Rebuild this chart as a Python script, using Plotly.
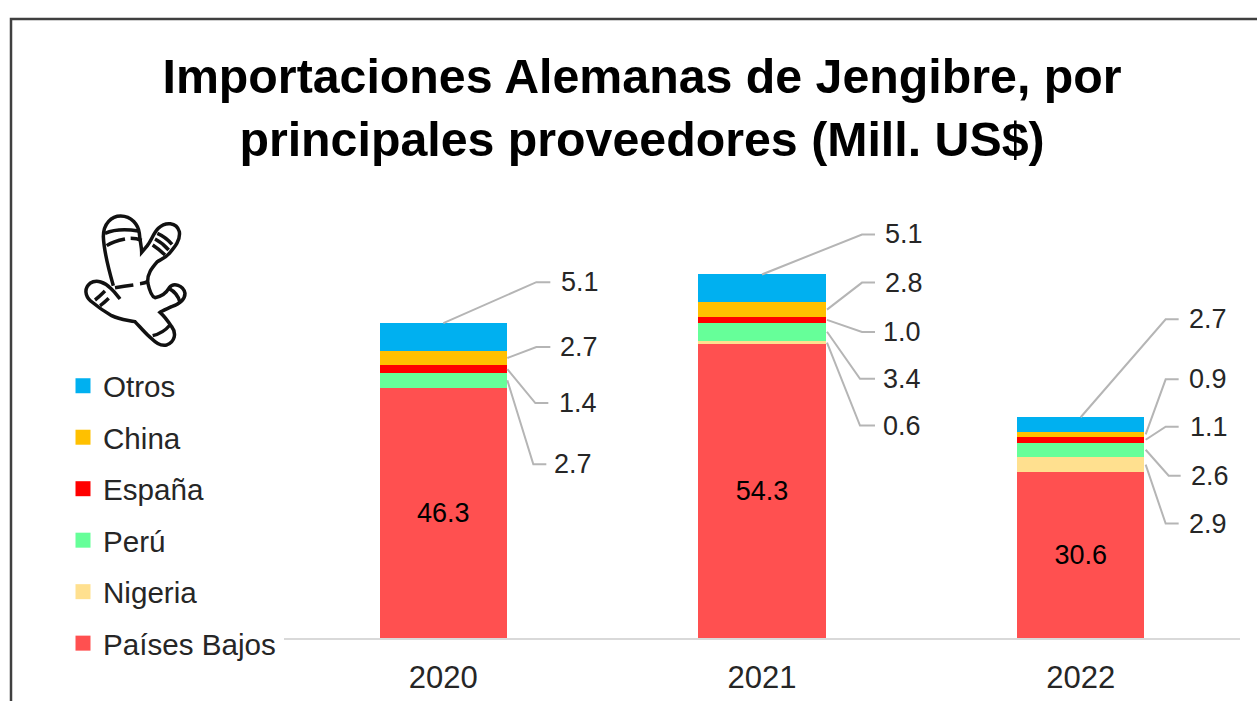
import plotly.graph_objects as go

WIDTH, HEIGHT = 1257, 701

years = ["2020", "2021", "2022"]
paises_bajos = [46.3, 54.3, 30.6]
nigeria = [None, 0.6, 2.9]
peru = [2.7, 3.4, 2.6]
espana = [1.4, 1.0, 1.1]
china = [2.7, 2.8, 0.9]
otros = [5.1, 5.1, 2.7]

series_names = ["Países Bajos", "Nigeria", "Perú", "España", "China", "Otros"]
series_values = [paises_bajos, nigeria, peru, espana, china, otros]
series_colors = ["#FF5050", "#FFE08F", "#66FF99", "#FF0000", "#FFC000", "#00B0F0"]

title_text = "<b>Importaciones Alemanas de Jengibre, por<br>principales proveedores (Mill. US$)</b>"

FONT = "Liberation Sans"
PLOT_L, PLOT_R = 284, 1240
BASE_Y, PLOT_TOP = 638, 200
PX_PER_UNIT = 5.41
Y_MAX = (BASE_Y - PLOT_TOP) / PX_PER_UNIT


def px_x(v):
    return (v - PLOT_L) / (PLOT_R - PLOT_L)


def px_y(v):
    return (BASE_Y - v) / (BASE_Y - PLOT_TOP)


# leader lines, pixel offsets from the bar centre and the segment's value:
# series index: (anchor, start dx, elbow dx, elbow dy, end dx, label dx)
leaders = {
    0: {5: ("top", 0, 93, 41, 107, 116), 4: ("mid", 64, 93, 11, 107, 115), 3: ("mid", 64, 92, -34, 105, 114),
        2: ("mid", 64, 90, -84, 103, 109)},
    1: {5: ("top", 0, 100, 40, 113, 121), 4: ("mid", 65, 100, 27, 113, 121), 3: ("mid", 65, 100, -12, 113, 119),
        2: ("mid", 65, 98, -47, 113, 119), 1: ("mid", 65, 98, -83, 113, 119)},
    2: {5: ("top", 0, 85, 98, 98, 106), 4: ("mid", 65, 85, 55, 98, 106), 3: ("mid", 65, 85, 13, 98, 107),
        2: ("mid", 65, 88, -26, 100, 108), 1: ("mid", 65, 85, -59, 98, 106)},
}

fig = go.Figure()
for name, vals, col in zip(series_names, series_values, series_colors):
    big = name == "Países Bajos"
    fig.add_trace(go.Bar(
        x=years, y=vals, name=name, marker=dict(color=col, line=dict(width=0)),
        showlegend=False, width=0.4,
        text=[str(v) if v is not None else "" for v in vals] if big else None,
        textposition="inside" if big else None, insidetextanchor="middle" if big else None,
        textangle=0 if big else None,
        textfont=dict(family=FONT, size=27, color="#000000") if big else None,
    ))
for name, col in reversed(list(zip(series_names, series_colors))):
    fig.add_trace(go.Scatter(
        x=[None], y=[None], mode="markers", name=name, legendgroup=name,
        marker=dict(symbol="square", size=15, color=col),
    ))

shapes = []
annotations = []

# chart frame
shapes.append(dict(type="path", xref="paper", yref="paper",
                   path=f"M {px_x(11)} {px_y(720)} L {px_x(11)} {px_y(19)} L {px_x(1270)} {px_y(19)}",
                   line=dict(color="#404040", width=2.5)))

# leader lines and their labels, anchored on the stacked values
for yi, items in leaders.items():
    for si, (kind, sdx, edx, edy, xdx, ldx) in items.items():
        below = sum((series_values[k][yi] or 0) for k in range(si))
        val = series_values[si][yi]
        anchor_y = below + val if kind == "top" else below + val / 2
        shapes.append(dict(type="path", xref="x", yref="y", xsizemode="pixel", ysizemode="pixel",
                           xanchor=yi, yanchor=anchor_y,
                           path=f"M {sdx} 0 L {edx} {edy} L {xdx} {edy}",
                           line=dict(color="#B5B5B5", width=2), layer="above"))
        annotations.append(dict(x=yi, y=anchor_y, xref="x", yref="y", text=f"{val:.1f}", showarrow=False,
                                xanchor="left", yanchor="middle", xshift=ldx, yshift=edy,
                                font=dict(family=FONT, size=27, color="#262626")))


# ginger icon, drawn in a local grid of thirds of a pixel
def to_paper(path, ox=70, oy=205, s=1 / 3):
    res = []
    i = 0
    for tok in path.split():
        if tok.isalpha():
            res.append(tok)
            i = 0
        else:
            v = float(tok) * s
            res.append(f"{px_x(ox + v):.5f}" if i % 2 == 0 else f"{px_y(oy + v):.5f}")
            i += 1
    return " ".join(res)


icon_paths = [
    "M 130 242 C 115 190 102 140 100 95 C 100 55 125 33 152 33 C 185 33 205 60 208 85 C 210 110 215 125 215 142 "
    "L 232 122 C 245 105 250 85 265 70 C 285 50 320 50 328 80 C 332 105 315 125 298 145 C 285 160 270 165 262 170 "
    "C 245 190 232 205 233 232 C 238 255 245 275 255 278 C 275 275 290 262 298 248 C 310 232 340 240 345 265 "
    "C 345 285 325 298 305 305 C 290 312 275 318 270 322 C 285 335 295 350 305 365 C 320 385 315 410 290 420 "
    "C 265 425 250 405 235 392 C 220 378 205 360 195 350 C 175 345 150 345 125 332 C 100 318 80 303 62 288 "
    "C 45 272 42 250 60 235 C 80 222 105 232 122 250 C 135 262 142 272 150 282",
    "M 105 85 C 135 72 170 72 205 78",
    "M 110 122 C 125 112 145 106 165 102",
    "M 182 100 C 195 100 205 102 215 106",
    "M 135 248 C 155 245 170 243 190 240",
    "M 210 236 C 220 235 228 233 236 228",
    "M 262 85 C 278 92 295 105 306 118",
    "M 255 102 C 270 110 285 122 296 135",
    "M 248 120 C 260 128 275 140 285 150",
    "M 75 285 C 85 278 95 268 105 258",
    "M 90 302 C 100 296 108 288 116 280",
    "M 296 250 C 312 258 325 272 330 292",
    "M 248 392 C 265 388 285 378 300 360",
]
for p in icon_paths:
    shapes.append(dict(type="path", xref="paper", yref="paper", path=to_paper(p),
                       line=dict(color="#111111", width=3.5)))

fig.update_layout(
    width=WIDTH, height=HEIGHT, autosize=False,
    margin=dict(l=PLOT_L, r=WIDTH - PLOT_R, t=PLOT_TOP, b=HEIGHT - BASE_Y, autoexpand=False),
    paper_bgcolor="#FFFFFF", plot_bgcolor="#FFFFFF",
    barmode="stack", bargap=0.6,
    font=dict(family=FONT),
    title=dict(text=title_text, x=642 / WIDTH, xanchor="center", y=1 - 93 / HEIGHT, yanchor="middle",
               font=dict(family=FONT, size=48.3, color="#000000")),
    xaxis=dict(type="category", categoryorder="array", categoryarray=years, range=[-0.5, 2.5],
               showgrid=False, zeroline=False, showline=True, linecolor="#D9D9D9", linewidth=2,
               ticks="", tickfont=dict(family=FONT, size=31, color="#262626"), ticklabelstandoff=11),
    yaxis=dict(range=[0, Y_MAX], visible=False),
    legend=dict(xref="container", yref="container", x=63 / WIDTH, xanchor="left", y=1 - 360 / HEIGHT,
                yanchor="top", traceorder="grouped",
                tracegroupgap=10, bgcolor="rgba(0,0,0,0)", borderwidth=0,
                font=dict(family=FONT, size=29.6, color="#262626")),
    shapes=shapes, annotations=annotations,
)
fig.write_html("out.html", post_script="document.body.style.margin='0';", config=dict(displayModeBar=False))
